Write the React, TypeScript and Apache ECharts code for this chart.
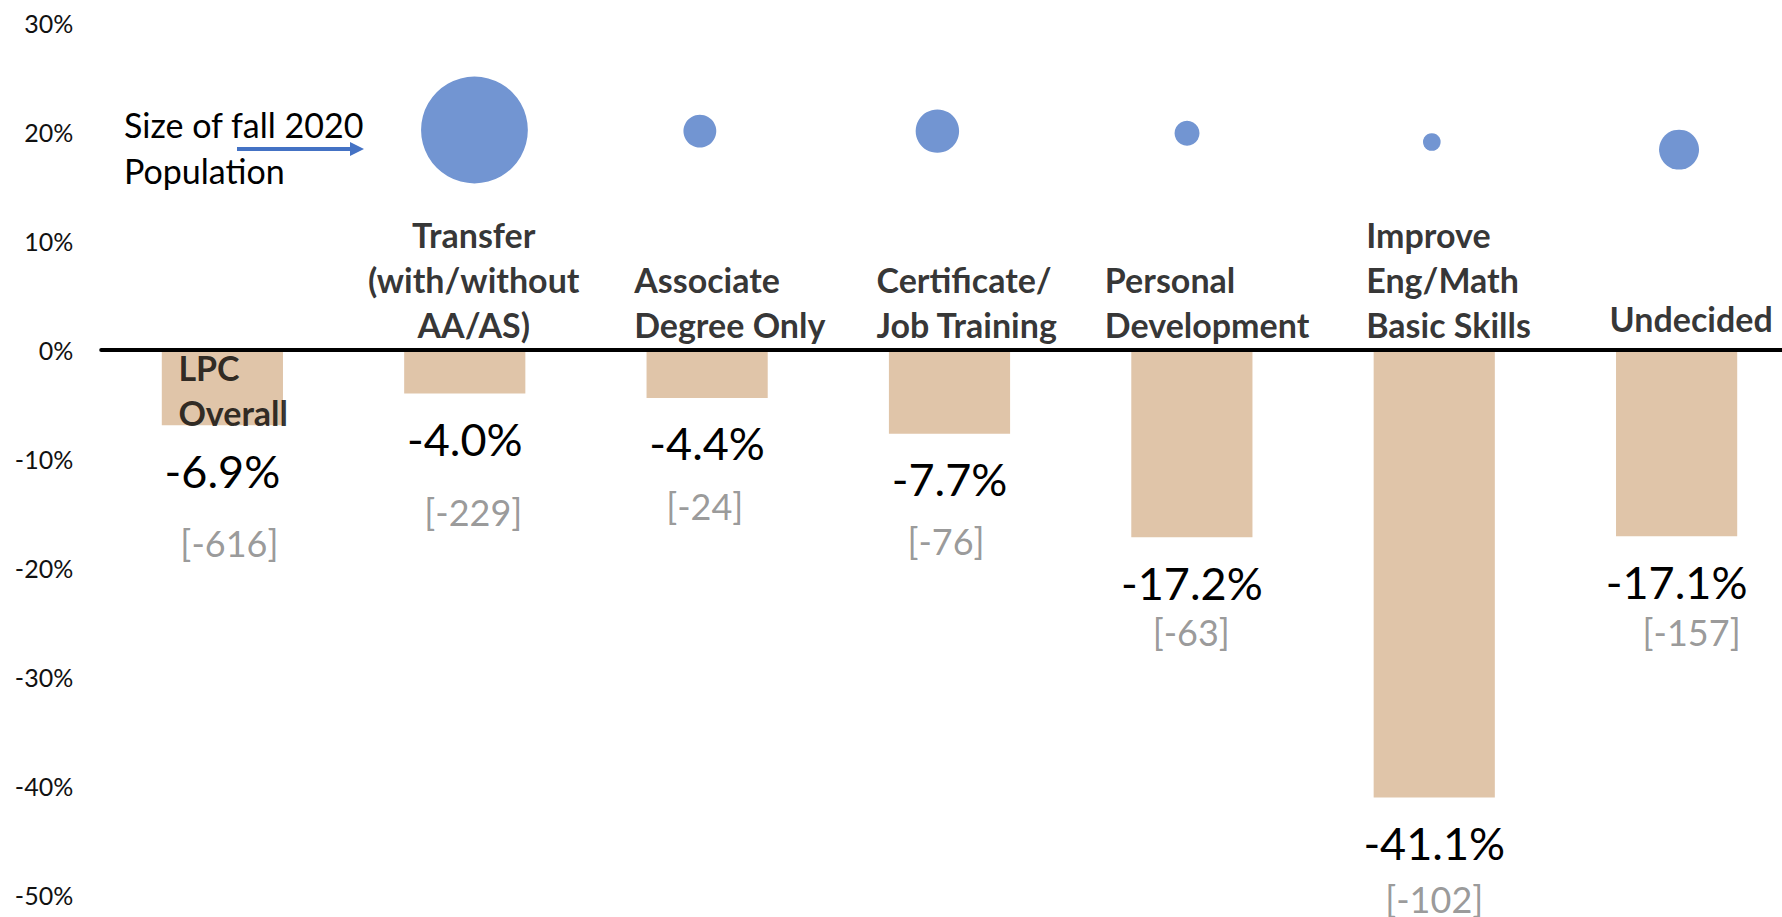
import React, { useEffect, useRef } from "react";
import * as echarts from "echarts";

// ---- data ----
const categories = [
  "LPC\nOverall",
  "Transfer\n(with/without\nAA/AS)",
  "Associate\nDegree Only",
  "Certificate/\nJob Training",
  "Personal\nDevelopment",
  "Improve\nEng/Math\nBasic Skills",
  "Undecided",
];
const changePct = [-6.9, -4.0, -4.4, -7.7, -17.2, -41.1, -17.1];
const changeCount = [-616, -229, -24, -76, -63, -102, -157];

// bubbles: size of fall 2020 population (categories 1..6)
const bubbleX = [1.04, 1.97, 2.95, 3.98, 4.99, 6.01];
const bubbleY = [20.2, 20.1, 20.1, 19.9, 19.1, 18.4];
const fall2020Pop = [5500, 520, 910, 300, 150, 770];

const yMin = -50;
const yMax = 30;
const yInterval = 10;

const FONT = "Lato";

export default function App() {
  const ref = useRef<HTMLDivElement>(null);

  useEffect(() => {
    if (!ref.current) return;
    document.body.style.margin = "0";
    document.documentElement.style.margin = "0";
    const chart = echarts.init(ref.current, null, { renderer: "svg" });

    const catLabelLayout: any[] = [
      { position: "bottom", align: "left", offset: [-44, -6] },
      { position: "top", align: "center", offset: [9, -2.5] },
      { position: "top", align: "left", offset: [-73, -2.5] },
      { position: "top", align: "left", offset: [-73, -2.5] },
      { position: "top", align: "left", offset: [-87, -2.5] },
      { position: "top", align: "left", offset: [-68, -2.5] },
      { position: "top", align: "left", offset: [-67, -9] },
    ];
    const countOffsets = [
      [7, 118],
      [8.5, 118],
      [-2.4, 108],
      [-3.5, 107],
      [-0.6, 95],
      [0, 101],
      [15, 96],
    ];

    chart.setOption({
      animation: false,
      tooltip: { show: false },
      grid: { left: 101.2, right: 2.2, top: 23.3, bottom: 22.5, containLabel: false },
      xAxis: [
        {
          type: "category",
          data: categories,
          axisLine: { show: true, onZero: true, lineStyle: { color: "#000", width: 4 } },
          axisTick: { show: false },
          axisLabel: { show: false },
          splitLine: { show: false },
          z: 10,
        },
        {
          type: "value",
          min: -0.5,
          max: 6.5,
          show: false,
        },
      ],
      yAxis: {
        type: "value",
        min: yMin,
        max: yMax,
        interval: yInterval,
        axisLine: { show: false },
        axisTick: { show: false },
        splitLine: { show: false },
        axisLabel: {
          formatter: (v: number) => `${v}%`,
          fontFamily: FONT,
          fontSize: 25,
          color: "#111",
          margin: 28,
        },
      },
      series: [
        {
          type: "bar",
          data: changePct,
          barWidth: "50%",
          itemStyle: { color: "#E0C5A9" },
          silent: true,
          label: {
            show: true,
            position: "bottom",
            distance: 23,
            formatter: (p: any) => `${Number(p.value).toFixed(1)}%`,
            fontFamily: FONT,
            fontSize: 45,
            lineHeight: 45,
            color: "#000",
          },
        },
        {
          type: "scatter",
          silent: true,
          symbolSize: 1,
          itemStyle: { color: "transparent" },
          data: changePct.map((v, i) => ({
            value: [i, v],
            label: { offset: countOffsets[i] },
          })),
          label: {
            show: true,
            position: "inside",
            formatter: (p: any) => `[${changeCount[p.dataIndex]}]`,
            fontFamily: FONT,
            fontSize: 36,
            color: "#7F7F7F",
          },
          z: 4,
        },
        {
          type: "scatter",
          silent: true,
          symbolSize: 1,
          itemStyle: { color: "transparent" },
          data: categories.map((c, i) => ({
            value: [i, 0],
            label: catLabelLayout[i],
          })),
          label: {
            show: true,
            distance: 0,
            formatter: (p: any) => categories[p.dataIndex],
            fontFamily: FONT,
            fontWeight: "bold",
            fontSize: 34,
            lineHeight: 45,
            color: "#000",
          },
          z: 6,
        },
        {
          type: "scatter",
          silent: true,
          xAxisIndex: 1,
          data: bubbleX.map((x, i) => [x, bubbleY[i], fall2020Pop[i]]),
          symbolSize: (d: number[]) => Math.sqrt(d[2]) * 1.44,
          itemStyle: { color: "#7295D2", opacity: 1 },
          z: 3,
        },
      ],
      graphic: [
        {
          type: "text",
          left: 124,
          top: 101,
          silent: true,
          style: {
            text: "Size of fall 2020\nPopulation",
            font: `34px ${FONT}`,
            fontFamily: FONT,
            fontSize: 34,
            lineHeight: 46,
            fill: "#000",
          },
        },
        {
          type: "line",
          silent: true,
          shape: { x1: 237, y1: 149, x2: 352, y2: 149 },
          style: { stroke: "#4472C4", lineWidth: 4 },
        },
        {
          type: "polygon",
          silent: true,
          shape: { points: [[350, 142], [364, 149], [350, 156]] },
          style: { fill: "#4472C4" },
        },
      ],
    });

    return () => chart.dispose();
  }, []);

  return (
    <div
      style={{
        position: "absolute",
        left: 0,
        top: 0,
        width: 1782,
        height: 917,
        overflow: "hidden",
      }}
    >
      <div ref={ref} style={{ width: 1800, height: 917 }} />
    </div>
  );
}
